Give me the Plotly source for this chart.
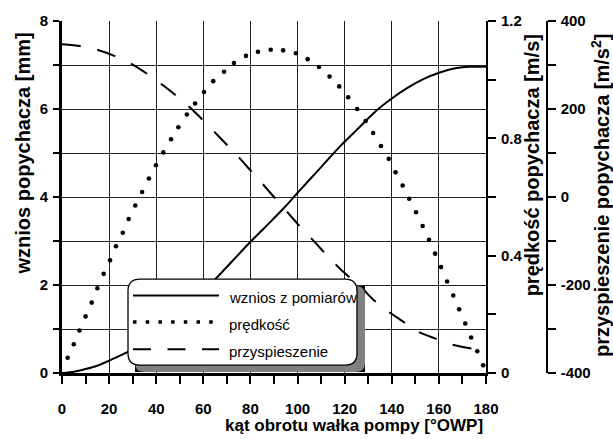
import plotly.graph_objects as go

# ---------------- data ----------------
lift_x = [0, 5, 10, 14.7, 20.4, 27.9, 40, 50, 60, 66.3, 79.8, 88.6, 95.1, 99.6,
          110, 118, 125, 133.6, 140, 146.3, 153.4, 160.4, 167.5, 173, 180]
lift_mm = [0, 0.03, 0.09, 0.16, 0.29, 0.48, 0.9, 1.37, 1.87, 2.2, 2.97, 3.44, 3.80, 4.07,
           4.68, 5.15, 5.52, 5.97, 6.24, 6.47, 6.68, 6.83, 6.93, 6.96, 6.96]

vel_x = [2.4, 5.0, 7.4, 10.0, 12.6, 15.0, 17.7, 20.4, 22.9, 25.8, 28.3, 31.1, 34.0, 36.9,
         39.9, 43.0, 46.3, 49.4, 53.0, 56.5, 60.3, 64.2, 68.8, 73.0, 78.1, 83.2, 88.6,
         93.9, 99.3, 104.3, 109.1, 113.6, 117.7, 121.5, 125.3, 128.9, 132.1, 135.4,
         138.7, 141.6, 144.6, 147.4, 150.3, 153.1, 155.8, 158.4, 160.9, 163.5, 166.1,
         168.6, 171.2, 173.7, 176.3, 178.8]
vel_ms = [0.052, 0.098, 0.145, 0.193, 0.240, 0.289, 0.338, 0.384, 0.432, 0.478, 0.525,
          0.571, 0.617, 0.663, 0.708, 0.752, 0.797, 0.838, 0.881, 0.919, 0.958, 0.995,
          1.027, 1.057, 1.081, 1.095, 1.102, 1.100, 1.090, 1.070, 1.043, 1.011, 0.977,
          0.940, 0.900, 0.859, 0.818, 0.774, 0.730, 0.684, 0.639, 0.594, 0.548, 0.501,
          0.454, 0.407, 0.361, 0.312, 0.264, 0.217, 0.169, 0.121, 0.074, 0.026]

acc_x = [0, 7.6, 14.7, 22.5, 29.6, 36.4, 42.6, 49.7, 55.6, 60.7, 67.4, 73.4, 79.1, 84.8,
         90.0, 96.1, 101.0, 107.4, 113.0, 119.4, 127.2, 131.5, 137.4, 144.2, 150.8,
         158.6, 165.1, 173.2, 180]
acc_ms2 = [347, 343, 335, 320, 302, 279, 255, 225, 197, 170, 133, 100, 66, 32,
           0, -37, -67, -103, -136, -170, -206, -230, -256, -281, -305,
           -322, -335, -344, -347]

acc_ticks = [-400, -200, 0, 200, 400]
acc_labels = ["-400", "-200", "0", "200", "400"]

legend_names = ["wznios z pomiarów", "prędkość", "przyspieszenie"]
x_title = "kąt obrotu wałka pompy [°OWP]"
y_title = "wznios popychacza [mm]"
y2_title = "prędkość popychacza [m/s]"
y3_title = "przyspieszenie popychacza [m/s<sup>2</sup>]"

# ---------------- layout geometry ----------------
W, H = 613, 439
L, R, T, B = 62, 40, 17, 66
PW, PH = W - L - R, H - T - B
XDOM = (486 - L) / PW
ACC_POS = (546.7 - L) / PW


def px(x):
    return (x - L) / PW


def py(y):
    return (H - B - y) / PH


FONT = "Liberation Sans, Arial, sans-serif"
tickfont = dict(family=FONT, size=15, color="black", weight="bold")
GRID = "#222222"

fig = go.Figure()
fig.add_trace(go.Scatter(x=lift_x, y=lift_mm, mode="lines", yaxis="y",
                         line=dict(color="black", width=2, shape="spline", smoothing=0.6),
                         name=legend_names[0], showlegend=False))
fig.add_trace(go.Scatter(x=vel_x, y=vel_ms, mode="markers", yaxis="y2",
                         marker=dict(color="black", size=4.6),
                         name=legend_names[1], showlegend=False))
fig.add_trace(go.Scatter(x=acc_x, y=acc_ms2, mode="lines", yaxis="y3",
                         line=dict(color="black", width=2, dash="19px,17px",
                                   shape="spline", smoothing=0.6),
                         name=legend_names[2], showlegend=False))


# ---------------- legend box (decoration) ----------------
def rrect(x0, y0, x1, y1, r):
    pts = [("M", [(x0 + r, y0)]), ("L", [(x1 - r, y0)]), ("Q", [(x1, y0), (x1, y0 + r)]),
           ("L", [(x1, y1 - r)]), ("Q", [(x1, y1), (x1 - r, y1)]), ("L", [(x0 + r, y1)]),
           ("Q", [(x0, y1), (x0, y1 - r)]), ("L", [(x0, y0 + r)]),
           ("Q", [(x0, y0), (x0 + r, y0)])]
    s = ""
    for cmd, ps in pts:
        s += cmd + " ".join(f"{px(a):.5f},{py(b):.5f}" for a, b in ps)
    return s + "Z"


shapes = []
shapes.append(dict(type="rect", xref="paper", yref="paper", layer="above",
                   x0=px(135), x1=px(365), y0=py(285), y1=py(372),
                   fillcolor="black", line=dict(width=0)))
shapes.append(dict(type="path", xref="paper", yref="paper", layer="above",
                   path=rrect(135, 285, 365, 372, 9), fillcolor="#808080",
                   line=dict(width=0)))
shapes.append(dict(type="path", xref="paper", yref="paper", layer="above",
                   path=rrect(128, 278, 357, 365, 12), fillcolor="white",
                   line=dict(color="black", width=1.3)))
leg_y = [294.5, 321.5, 349]
leg_dash = ["solid", "3.5px,9.2px", "18px,16.5px"]
leg_w = [2, 3.5, 2]
for yy, d, wd in zip(leg_y, leg_dash, leg_w):
    shapes.append(dict(type="line", xref="paper", yref="paper", layer="above",
                       x0=px(133), x1=px(219), y0=py(yy), y1=py(yy),
                       line=dict(color="black", width=wd, dash=d)))

annotations = []
for name, yy in zip(legend_names, leg_y):
    annotations.append(dict(xref="paper", yref="paper", x=px(227), y=py(yy + 2),
                            text=name, showarrow=False, xanchor="left", yanchor="middle",
                            font=dict(family=FONT, size=15, color="black")))

titlefont = dict(family=FONT, size=20, color="black", weight="bold")
annotations.append(dict(xref="paper", yref="paper", x=px(353.5), y=py(426),
                        text=x_title, showarrow=False, xanchor="center", yanchor="middle",
                        font=dict(family=FONT, size=17, color="black", weight="bold")))
annotations.append(dict(xref="paper", yref="paper", x=px(23), y=py(151),
                        text=y_title, showarrow=False, textangle=-90,
                        xanchor="center", yanchor="middle", font=titlefont))
annotations.append(dict(xref="paper", yref="paper", x=px(532), y=py(163),
                        text=y2_title, showarrow=False, textangle=-90,
                        xanchor="center", yanchor="middle", font=titlefont))
annotations.append(dict(xref="paper", yref="paper", x=px(600), y=py(194),
                        text=y3_title, showarrow=False, textangle=-90,
                        xanchor="center", yanchor="middle", font=titlefont))

fig.update_layout(
    width=W, height=H, margin=dict(l=L, r=R, t=T, b=B, pad=0),
    paper_bgcolor="white", plot_bgcolor="white", showlegend=False,
    xaxis=dict(domain=[0, XDOM], range=[0, 180], tick0=0, dtick=20,
               ticks="outside", ticklen=8, tickwidth=2, tickcolor="black",
               showline=True, linewidth=3, linecolor="black",
               showgrid=True, gridcolor=GRID, gridwidth=1, zeroline=False,
               tickfont=tickfont, ticklabelstandoff=12,
               minor=dict(dtick=10, ticks="outside", ticklen=8, tickwidth=2,
                          tickcolor="black", showgrid=False)),
    yaxis=dict(range=[0, 8], tick0=0, dtick=2, ticks="outside", ticklen=6, tickwidth=2,
               tickcolor="black", showline=True, linewidth=3, linecolor="black",
               showgrid=True, gridcolor=GRID, gridwidth=1, zeroline=False,
               tickfont=tickfont, ticklabelstandoff=2,
               minor=dict(dtick=1, ticks="outside", ticklen=6, tickwidth=2,
                          tickcolor="black", showgrid=True, gridcolor=GRID, gridwidth=1)),
    yaxis2=dict(overlaying="y", side="right", anchor="x", range=[0, 1.2], tick0=0,
                dtick=0.4, ticks="outside", ticklen=8, tickwidth=2, tickcolor="black",
                showline=True, linewidth=2, linecolor="black", showgrid=False,
                zeroline=False, tickfont=tickfont, ticklabelstandoff=2,
                minor=dict(dtick=0.2, ticks="outside", ticklen=8, tickwidth=2,
                           tickcolor="black")),
    yaxis3=dict(overlaying="y", side="right", anchor="free", position=ACC_POS,
                range=[-400, 400], tickmode="array", tickvals=acc_ticks,
                ticktext=acc_labels, ticks="outside", ticklen=8, tickwidth=2,
                tickcolor="black", showline=True, linewidth=2, linecolor="black",
                showgrid=False, zeroline=False, tickfont=tickfont, ticklabelstandoff=2,
                minor=dict(dtick=100, ticks="outside", ticklen=8, tickwidth=2,
                           tickcolor="black")),
    shapes=shapes, annotations=annotations,
)

fig.write_html("out.html")
